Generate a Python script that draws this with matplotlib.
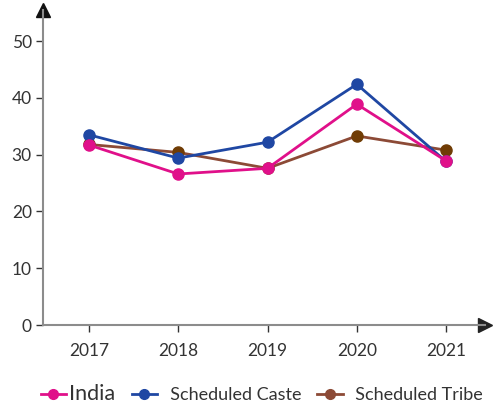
import matplotlib.pyplot as plt
from matplotlib.lines import Line2D

plt.rcParams['font.family'] = ['Lato', 'DejaVu Sans']

years = [2017, 2018, 2019, 2020, 2021]
india = [31.7, 26.6, 27.6, 38.9, 28.9]
scheduled_caste = [33.5, 29.4, 32.2, 42.4, 28.8]
scheduled_tribe = [31.8, 30.4, 27.6, 33.3, 30.8]
yticks = [0, 10, 20, 30, 40, 50]

fig = plt.figure(figsize=(4.94, 4.04), dpi=100)
ax = fig.add_axes([0.087, 0.1955, 0.895, 0.78])

# series drawn bottom to top: tribe, caste, india
ax.plot(years, scheduled_tribe, color='#8c4a36', lw=2, marker='o', ms=8,
        mfc='#703c05', mec='#703c05', zorder=3)
ax.plot(years, scheduled_caste, color='#1f47a3', lw=2, marker='o', ms=8,
        mfc='#1f47a3', mec='#1f47a3', zorder=4)
ax.plot(years, india, color='#e0108a', lw=2, marker='o', ms=8,
        mfc='#e0108a', mec='#e0108a', zorder=5)

ax.set_xlim(2016.485, 2021.437)
ax.set_ylim(0, 55.5)
ax.set_xticks(years)
ax.set_yticks(yticks)

for s in ['top', 'right']:
    ax.spines[s].set_visible(False)
for s in ['left', 'bottom']:
    ax.spines[s].set_color('#8c8c8c')
    ax.spines[s].set_linewidth(1.5)

ax.tick_params(axis='both', colors='#333333', labelsize=12.5, length=5, width=1)
ax.tick_params(axis='x', pad=8)
ax.tick_params(axis='y', pad=3)

# arrow heads on the axes
ax.plot(0, 1, marker='^', color='#111111', ms=10, transform=ax.transAxes, clip_on=False)
ax.plot(1, 0, marker='>', color='#222222', ms=10, transform=ax.transAxes, clip_on=False)

handles = [
    Line2D([], [], color='#e0108a', lw=2, marker='o', ms=7),
    Line2D([], [], color='#1f47a3', lw=2, marker='o', ms=7),
    Line2D([], [], color='#8c4a36', lw=2, marker='o', ms=7),
]
leg = fig.legend(handles, ['India', '  Scheduled Caste', '  Scheduled Tribe'],
                 loc='lower center', bbox_to_anchor=(0.53, -0.04), ncol=3,
                 frameon=False, fontsize=13, handlelength=1.4,
                 handletextpad=0.2, columnspacing=0.9)
for t in leg.get_texts():
    t.set_color('#333333')
leg.get_texts()[0].set_fontsize(15.5)

fig.savefig('out.png', dpi=100)
